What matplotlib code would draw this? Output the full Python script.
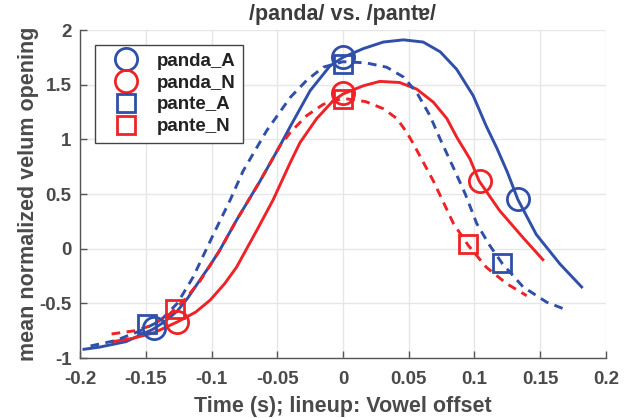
import matplotlib
matplotlib.use("Agg")
import matplotlib.pyplot as plt

plt.rcParams["font.family"] = ["Liberation Sans", "DejaVu Sans"]
plt.rcParams["font.weight"] = "bold"

BLUE = "#2f4fa8"
RED = "#ee2227"
TEXT = "#3c3c3c"

# panda_A (blue, solid)
panda_a_t = [-0.197, -0.185, -0.165, -0.145, -0.136, -0.126, -0.118, -0.109, -0.101, -0.094,
             -0.081, -0.063, -0.048, -0.040, -0.025, -0.010, 0.0, 0.0155, 0.0307, 0.046,
             0.061, 0.074, 0.0865, 0.099, 0.109, 0.117, 0.125, 0.133, 0.147, 0.165, 0.1815]
panda_a_v = [-0.92, -0.90, -0.85, -0.74, -0.67, -0.57, -0.45, -0.29, -0.15, -0.02,
             0.26, 0.62, 0.94, 1.12, 1.445, 1.67, 1.75, 1.83, 1.89, 1.91,
             1.89, 1.80, 1.64, 1.40, 1.12, 0.92, 0.70, 0.45, 0.13, -0.14, -0.35]

# panda_N (red, solid)
panda_n_t = [-0.175, -0.160, -0.144, -0.126, -0.112, -0.101, -0.090, -0.081, -0.065, -0.053,
             -0.040, -0.0327, -0.020, -0.0074, 0.0, 0.0155, 0.028, 0.043, 0.056, 0.0687,
             0.079, 0.0865, 0.0966, 0.1035, 0.119, 0.137, 0.152]
panda_n_v = [-0.85, -0.82, -0.77, -0.67, -0.58, -0.47, -0.32, -0.17, 0.18, 0.45,
             0.79, 0.97, 1.19, 1.354, 1.415, 1.49, 1.53, 1.52, 1.46, 1.34,
             1.19, 1.02, 0.82, 0.62, 0.35, 0.10, -0.10]

# pante_A (blue, dashed)
pante_a_t = [-0.192, -0.173, -0.154, -0.139, -0.126, -0.114, -0.0986, -0.086, -0.076, -0.058,
             -0.040, -0.0276, -0.015, 0.0, 0.0173, 0.0332, 0.046, 0.056, 0.066, 0.074,
             0.084, 0.093, 0.1017, 0.111, 0.1214, 0.137, 0.155, 0.170]
pante_a_v = [-0.89, -0.84, -0.75, -0.66, -0.50, -0.26, 0.13, 0.44, 0.71, 1.08,
             1.385, 1.54, 1.66, 1.71, 1.70, 1.66, 1.57, 1.43, 1.22, 1.0,
             0.74, 0.50, 0.23, 0.04, -0.14, -0.35, -0.49, -0.56]

# pante_N (red, dashed)
pante_n_t = [-0.176, -0.158, -0.145, -0.132, -0.120, -0.109, -0.094, -0.081, -0.063, -0.048,
             -0.040, -0.0276, -0.015, 0.0, 0.0173, 0.0307, 0.041, 0.0485, 0.0535, 0.0687,
             0.0738, 0.084, 0.0953, 0.109, 0.1245, 0.1397]
pante_n_v = [-0.78, -0.75, -0.70, -0.60, -0.46, -0.30, -0.02, 0.26, 0.62, 0.94,
             1.064, 1.217, 1.32, 1.375, 1.345, 1.28, 1.19, 1.064, 0.96, 0.62,
             0.49, 0.23, 0.03, -0.17, -0.32, -0.43]

# landmark markers
panda_a_mark_t = [-0.144, 0.0, 0.133]
panda_a_mark_v = [-0.73, 1.75, 0.45]
panda_n_mark_t = [-0.126, 0.0, 0.104]
panda_n_mark_v = [-0.67, 1.42, 0.62]
pante_a_mark_t = [-0.149, 0.0, 0.121]
pante_a_mark_v = [-0.69, 1.69, -0.13]
pante_n_mark_t = [-0.128, 0.0, 0.095]
pante_n_mark_v = [-0.55, 1.37, 0.04]

x_ticks = [-0.2, -0.15, -0.1, -0.05, 0, 0.05, 0.1, 0.15, 0.2]
x_tick_labels = ["-0.2", "-0.15", "-0.1", "-0.05", "0", "0.05", "0.1", "0.15", "0.2"]
y_ticks = [-1, -0.5, 0, 0.5, 1, 1.5, 2]
y_tick_labels = ["-1", "-0.5", "0", "0.5", "1", "1.5", "2"]

fig = plt.figure(figsize=(6.33, 4.18), dpi=100)
ax = fig.add_axes([0.1264, 0.1435, 0.8309, 0.7847])

lw = 2.1
dash = (0, (3.0, 2.2))
ax.plot(panda_a_t, panda_a_v, color=BLUE, lw=lw)
ax.plot(panda_n_t, panda_n_v, color=RED, lw=lw)
ax.plot(pante_a_t, pante_a_v, color=BLUE, lw=lw, ls=dash)
ax.plot(pante_n_t, pante_n_v, color=RED, lw=lw, ls=dash)

mk = dict(ls="none", mfc="none", mew=2.0)
h1, = ax.plot(panda_a_mark_t, panda_a_mark_v, marker="o", ms=16, mec=BLUE, label="panda_A", **mk)
h2, = ax.plot(panda_n_mark_t, panda_n_mark_v, marker="o", ms=16, mec=RED, label="panda_N", **mk)
h3, = ax.plot(pante_a_mark_t, pante_a_mark_v, marker="s", ms=13, mec=BLUE, label="pante_A", **mk)
h4, = ax.plot(pante_n_mark_t, pante_n_mark_v, marker="s", ms=13, mec=RED, label="pante_N", **mk)

ax.set_xlim(-0.2, 0.2)
ax.set_ylim(-1, 2)
ax.set_xticks(x_ticks)
ax.set_xticklabels(x_tick_labels)
ax.set_yticks(y_ticks)
ax.set_yticklabels(y_tick_labels)
ax.grid(True, color="#e6e6e6", lw=1.0)
ax.set_axisbelow(True)
for side in ["top", "right"]:
    ax.spines[side].set_visible(False)
for side in ["left", "bottom"]:
    ax.spines[side].set_color("#555555")
    ax.spines[side].set_linewidth(1.0)
ax.tick_params(direction="in", length=5, width=1.0, color="#555555",
               labelsize=13.5, labelcolor="#4a4a4a")
ax.tick_params(axis="x", pad=9)
ax.tick_params(axis="y", pad=6)
for lab in ax.get_xticklabels() + ax.get_yticklabels():
    lab.set_fontweight("bold")

ax.set_title("/panda/ vs. /pantɐ/", fontsize=15.5, fontweight="bold", color=TEXT, pad=7)
ax.set_xlabel("Time (s); lineup: Vowel offset", fontsize=15.5, fontweight="bold",
              color="#4a4a4a", labelpad=6)
ax.set_ylabel("mean normalized velum opening", fontsize=15.5, fontweight="bold",
              color="#4a4a4a", labelpad=0)

leg = ax.legend(handles=[h1, h2, h3, h4], loc="upper left",
                bbox_to_anchor=(0.0285, 0.954), fontsize=13.5, frameon=True,
                fancybox=False, edgecolor="#444444", framealpha=1,
                handletextpad=0.4, labelspacing=0.25, borderpad=0.4,
                handlelength=2.5, borderaxespad=0)
leg.get_frame().set_linewidth(1.0)
for t in leg.get_texts():
    t.set_fontweight("bold")
    t.set_color("#222222")

fig.savefig("out.png", dpi=100)
